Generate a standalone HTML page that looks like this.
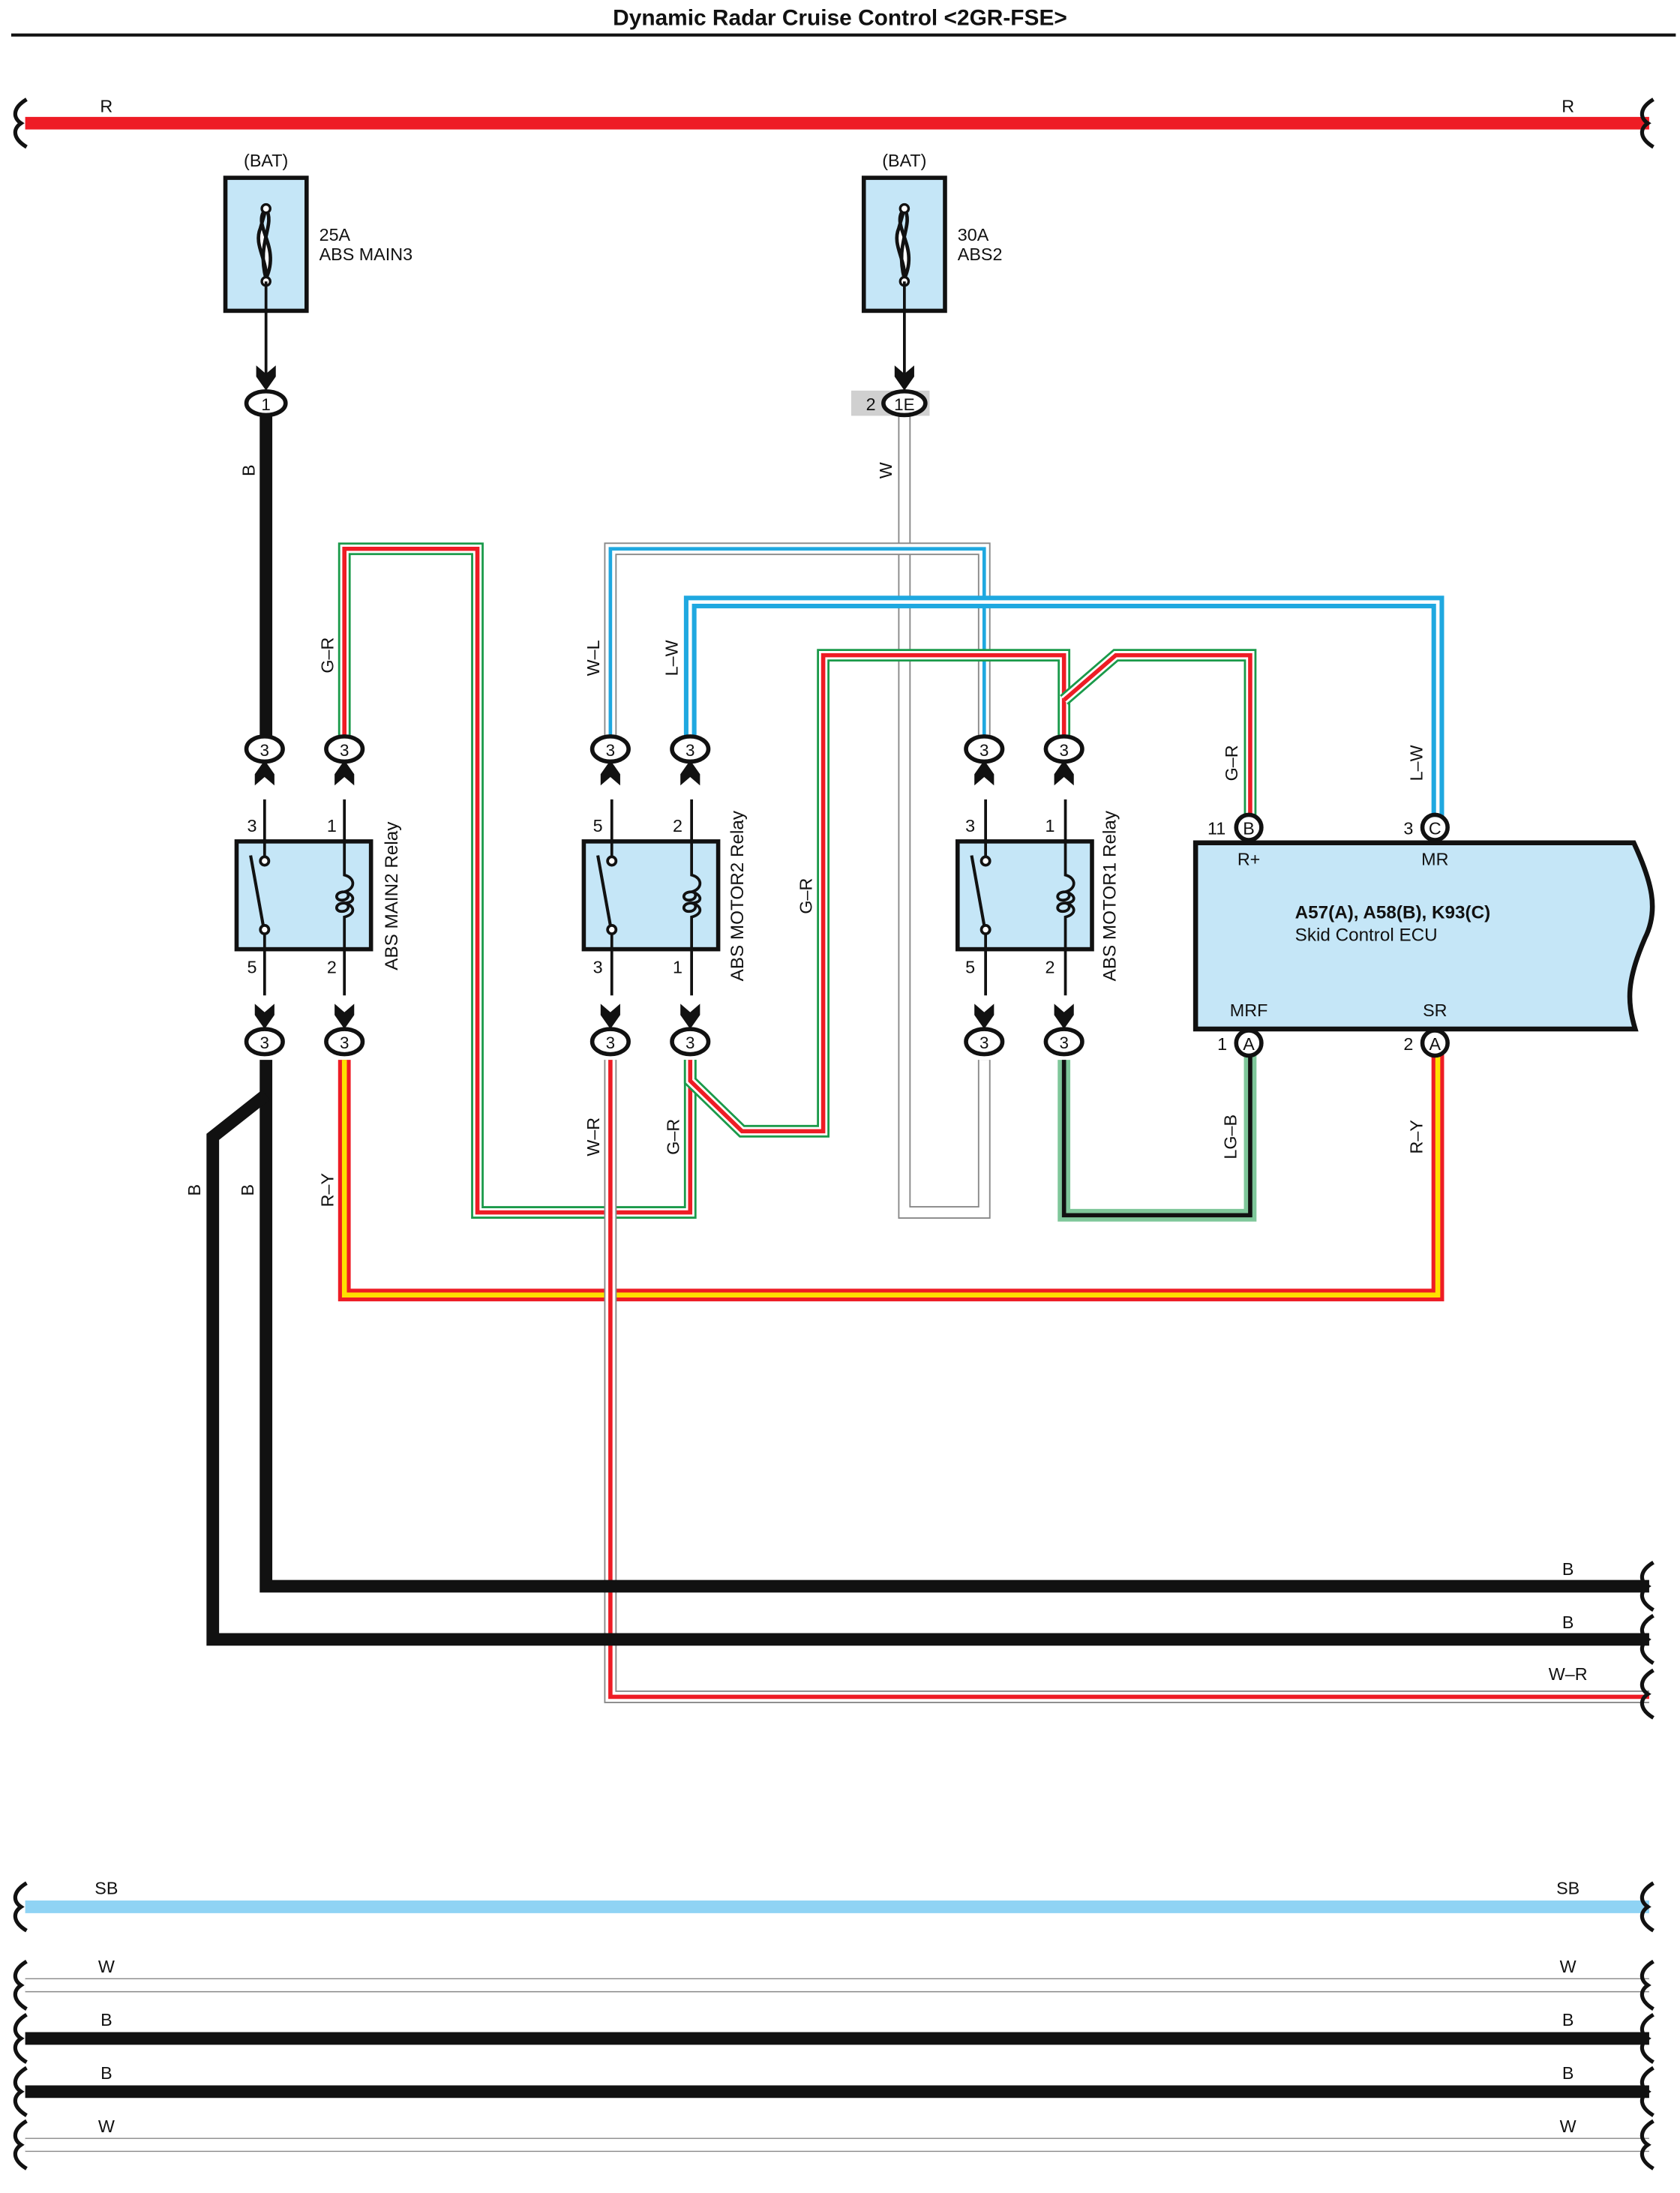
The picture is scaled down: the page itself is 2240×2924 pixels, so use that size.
<!DOCTYPE html>
<html><head><meta charset="utf-8"><style>
html,body{margin:0;padding:0;background:#fff}
svg{display:block}
text{font-family:"Liberation Sans",Arial,sans-serif;fill:#111}
</style></head><body>
<svg width="2240" height="2924" viewBox="0 0 1200 1566.4" preserveAspectRatio="none" xmlns="http://www.w3.org/2000/svg">
<defs>
<path id="brL" d="M1 -17 C-9 -11 -9 -4 -3 0 C-9 4 -9 11 1 17" fill="none" stroke="#111" stroke-width="2.8"/>
<path id="arU" d="M0 0 L7 10 L7 18 L0 12 L-7 18 L-7 10 Z" fill="#111"/>
<path id="arD" d="M0 0 L7 -10 L7 -18 L0 -12 L-7 -18 L-7 -10 Z" fill="#111"/>
<g id="fuse"><rect x="0" y="0" width="58" height="95" fill="#c5e6f7" stroke="#111" stroke-width="3"/>
<path d="M29 22 C18 34 40 48 29 72 C30 58 20 48 25 36 Z" fill="#fff" stroke="#111" stroke-width="2.5"/>
<path d="M29 22 C36 34 22 46 29 72" fill="none" stroke="#111" stroke-width="2.5"/>
<circle cx="29" cy="22" r="3" fill="#fff" stroke="#111" stroke-width="1.8"/><circle cx="29" cy="74" r="3" fill="#fff" stroke="#111" stroke-width="1.8"/></g>
<g id="relay"><rect x="0" y="0" width="96" height="77" fill="#c5e6f7" stroke="#111" stroke-width="3"/>
<circle cx="20" cy="14" r="3" fill="#fff" stroke="#111" stroke-width="2"/><circle cx="20" cy="63" r="3" fill="#fff" stroke="#111" stroke-width="2"/>
<line x1="10" y1="10" x2="19" y2="60" stroke="#111" stroke-width="2.2"/>
<path d="M77 0 V24 C85 26 85 34 77 36 M77 36 C70 36 70 42 75 42 C81 42 81 36 77 36 M77 44 C70 44 70 50 75 50 C81 50 81 44 77 44 M77 36 C85 38 85 44 77 44 M77 44 C85 46 85 52 77 54 V77" fill="none" stroke="#111" stroke-width="2"/>
<line x1="20" y1="-30" x2="20" y2="11" stroke="#111" stroke-width="2"/><line x1="20" y1="66" x2="20" y2="110" stroke="#111" stroke-width="2"/>
<line x1="77" y1="-30" x2="77" y2="0" stroke="#111" stroke-width="2"/><line x1="77" y1="77" x2="77" y2="110" stroke="#111" stroke-width="2"/>
</g>
</defs>

<text x="600" y="18" font-size="16" font-weight="bold" text-anchor="middle">Dynamic Radar Cruise Control &lt;2GR-FSE&gt;</text>
<line x1="8" y1="25" x2="1197" y2="25" stroke="#111" stroke-width="2.2"/>

<line x1="18" y1="88" x2="1178" y2="88" stroke="#ee1c25" stroke-width="9"/>
<use href="#brL" x="18" y="88"/><use href="#brL" x="1180" y="88"/>
<text x="76" y="80" font-size="12.5" text-anchor="middle">R</text>
<text x="1120" y="80" font-size="12.5" text-anchor="middle">R</text>

<text x="190" y="119" font-size="12.5" text-anchor="middle">(BAT)</text>
<use href="#fuse" x="161" y="127"/>
<text x="228" y="172" font-size="12.5">25A</text><text x="228" y="186" font-size="12.5">ABS MAIN3</text>
<text x="646" y="119" font-size="12.5" text-anchor="middle">(BAT)</text>
<use href="#fuse" x="617" y="127"/>
<text x="684" y="172" font-size="12.5">30A</text><text x="684" y="186" font-size="12.5">ABS2</text>
<line x1="190" y1="201" x2="190" y2="276" stroke="#111" stroke-width="2"/>
<line x1="646" y1="201" x2="646" y2="276" stroke="#111" stroke-width="2"/>
<use href="#arD" x="190" y="279"/><use href="#arD" x="646" y="279"/>

<g fill="none" stroke-linejoin="miter">
<path d="M646 297 V866 H703 V757" stroke="#888" stroke-width="9"/><path d="M646 297 V866 H703 V757" stroke="#fff" stroke-width="7"/>
<path d="M436 527 V392 H703 V527" stroke="#888" stroke-width="9"/><path d="M436 527 V392 H703 V527" stroke="#fff" stroke-width="7"/><path d="M436 527 V392 H703 V527" stroke="#1fa8e0" stroke-width="2.5"/>
<path d="M493 527 V430 H1027 V583" stroke="#1fa8e0" stroke-width="9"/><path d="M493 527 V430 H1027 V583" stroke="#fff" stroke-width="2.5"/>
<path d="M246 527 V392 H341 V866 H493 V757" stroke="#1a9a4a" stroke-width="9"/><path d="M246 527 V392 H341 V866 H493 V757" stroke="#fff" stroke-width="6"/><path d="M246 527 V392 H341 V866 H493 V757" stroke="#ee1c25" stroke-width="3"/>
<path d="M493 757 V772 L530 808 H588 V468 H760 V527" stroke="#1a9a4a" stroke-width="9"/><path d="M493 757 V772 L530 808 H588 V468 H760 V527" stroke="#fff" stroke-width="6"/><path d="M493 757 V772 L530 808 H588 V468 H760 V527" stroke="#ee1c25" stroke-width="3"/>
<path d="M760 500 L797 468 H893 V583" stroke="#1a9a4a" stroke-width="9"/><path d="M760 500 L797 468 H893 V583" stroke="#fff" stroke-width="6"/><path d="M760 500 L797 468 H893 V583" stroke="#ee1c25" stroke-width="3"/>
<path d="M760 757 V868 H893 V753" stroke="#7fc79a" stroke-width="9"/><path d="M760 757 V868 H893 V753" stroke="#111" stroke-width="3"/>
<path d="M246 757 V925 H1027 V753" stroke="#ee1c25" stroke-width="9"/><path d="M246 757 V925 H1027 V753" stroke="#ffe000" stroke-width="3.5"/>
<path d="M436 757 V1212 H1178" stroke="#888" stroke-width="9"/><path d="M436 757 V1212 H1178" stroke="#fff" stroke-width="7"/><path d="M436 757 V1212 H1178" stroke="#ee1c25" stroke-width="3"/>
<path d="M190 297 V527" stroke="#111" stroke-width="9"/>
<path d="M190 757 V1133 H1178" stroke="#111" stroke-width="9"/>
<path d="M190 782 L152 812 V1171 H1178" stroke="#111" stroke-width="9"/>
</g>
<use href="#brL" x="1180" y="1133"/><use href="#brL" x="1180" y="1171"/><use href="#brL" x="1180" y="1210"/>
<text x="1120" y="1125" font-size="12.5" text-anchor="middle">B</text>
<text x="1120" y="1163" font-size="12.5" text-anchor="middle">B</text>
<text x="1120" y="1200" font-size="12.5" text-anchor="middle">W–R</text>

<rect x="608" y="279" width="56" height="18" fill="#d0d0d0"/>
<text x="622" y="293" font-size="12.5" text-anchor="middle">2</text>
<ellipse cx="646" cy="288" rx="15" ry="8.5" fill="#fff" stroke="#111" stroke-width="3"/>
<text x="646" y="293" font-size="12" text-anchor="middle">1E</text>
<ellipse cx="190" cy="288" rx="14" ry="8.5" fill="#fff" stroke="#111" stroke-width="3"/>
<text x="190" y="293" font-size="12" text-anchor="middle">1</text>

<use href="#relay" x="169" y="601"/>
<use href="#relay" x="417" y="601"/>
<use href="#relay" x="684" y="601"/>
<g font-size="12.5" text-anchor="middle">
<text x="180" y="594">3</text><text x="237" y="594">1</text><text x="180" y="695">5</text><text x="237" y="695">2</text>
<text x="427" y="594">5</text><text x="484" y="594">2</text><text x="427" y="695">3</text><text x="484" y="695">1</text>
<text x="693" y="594">3</text><text x="750" y="594">1</text><text x="693" y="695">5</text><text x="750" y="695">2</text>
</g>
<text transform="translate(284,640) rotate(-90)" font-size="13" text-anchor="middle">ABS MAIN2 Relay</text>
<text transform="translate(531,640) rotate(-90)" font-size="13" text-anchor="middle">ABS MOTOR2 Relay</text>
<text transform="translate(797,640) rotate(-90)" font-size="13" text-anchor="middle">ABS MOTOR1 Relay</text>

<g>
<use href="#arU" x="189" y="543"/><use href="#arU" x="246" y="543"/><use href="#arU" x="436" y="543"/><use href="#arU" x="493" y="543"/><use href="#arU" x="703" y="543"/><use href="#arU" x="760" y="543"/>
<use href="#arD" x="189" y="735"/><use href="#arD" x="246" y="735"/><use href="#arD" x="436" y="735"/><use href="#arD" x="493" y="735"/><use href="#arD" x="703" y="735"/><use href="#arD" x="760" y="735"/>
<g fill="#fff" stroke="#111" stroke-width="3">
<ellipse cx="189" cy="535" rx="13" ry="9"/><ellipse cx="246" cy="535" rx="13" ry="9"/><ellipse cx="436" cy="535" rx="13" ry="9"/><ellipse cx="493" cy="535" rx="13" ry="9"/><ellipse cx="703" cy="535" rx="13" ry="9"/><ellipse cx="760" cy="535" rx="13" ry="9"/>
<ellipse cx="189" cy="744" rx="13" ry="9"/><ellipse cx="246" cy="744" rx="13" ry="9"/><ellipse cx="436" cy="744" rx="13" ry="9"/><ellipse cx="493" cy="744" rx="13" ry="9"/><ellipse cx="703" cy="744" rx="13" ry="9"/><ellipse cx="760" cy="744" rx="13" ry="9"/>
</g>
<g font-size="12" text-anchor="middle">
<text x="189" y="540">3</text><text x="246" y="540">3</text><text x="436" y="540">3</text><text x="493" y="540">3</text><text x="703" y="540">3</text><text x="760" y="540">3</text>
<text x="189" y="749">3</text><text x="246" y="749">3</text><text x="436" y="749">3</text><text x="493" y="749">3</text><text x="703" y="749">3</text><text x="760" y="749">3</text>
</g>
</g>

<path d="M854 602 H1167 C1180 630 1185 650 1175 670 C1162 700 1162 715 1168 735 H854 Z" fill="#c5e6f7" stroke="#111" stroke-width="3.5"/>
<g fill="#fff" stroke="#111" stroke-width="3">
<circle cx="892" cy="591" r="9"/><circle cx="1025" cy="591" r="9"/><circle cx="892" cy="745" r="9"/><circle cx="1025" cy="745" r="9"/>
</g>
<g font-size="12.5" text-anchor="middle">
<text x="892" y="596">B</text><text x="1025" y="596">C</text><text x="892" y="750">A</text><text x="1025" y="750">A</text>
<text x="869" y="596">11</text><text x="1006" y="596">3</text><text x="873" y="750">1</text><text x="1006" y="750">2</text>
<text x="892" y="618">R+</text><text x="1025" y="618">MR</text><text x="892" y="726">MRF</text><text x="1025" y="726">SR</text>
</g>
<text x="925" y="656" font-size="13" font-weight="bold">A57(A), A58(B), K93(C)</text>
<text x="925" y="672" font-size="13">Skid Control ECU</text>

<g font-size="12.5" text-anchor="middle">
<text transform="translate(182,336) rotate(-90)">B</text>
<text transform="translate(238,468) rotate(-90)">G–R</text>
<text transform="translate(428,470) rotate(-90)">W–L</text>
<text transform="translate(484,470) rotate(-90)">L–W</text>
<text transform="translate(637,336) rotate(-90)">W</text>
<text transform="translate(580,640) rotate(-90)">G–R</text>
<text transform="translate(884,545) rotate(-90)">G–R</text>
<text transform="translate(1016,545) rotate(-90)">L–W</text>
<text transform="translate(143,850) rotate(-90)">B</text>
<text transform="translate(181,850) rotate(-90)">B</text>
<text transform="translate(238,850) rotate(-90)">R–Y</text>
<text transform="translate(428,812) rotate(-90)">W–R</text>
<text transform="translate(485,812) rotate(-90)">G–R</text>
<text transform="translate(883,812) rotate(-90)">LG–B</text>
<text transform="translate(1016,812) rotate(-90)">R–Y</text>
</g>

<line x1="18" y1="1362" x2="1178" y2="1362" stroke="#8fd3f4" stroke-width="9"/>
<line x1="18" y1="1418" x2="1178" y2="1418" stroke="#888" stroke-width="10"/>
<line x1="18" y1="1418" x2="1178" y2="1418" stroke="#fff" stroke-width="8.5"/>
<line x1="18" y1="1456" x2="1178" y2="1456" stroke="#111" stroke-width="9"/>
<line x1="18" y1="1494" x2="1178" y2="1494" stroke="#111" stroke-width="9"/>
<line x1="18" y1="1532" x2="1178" y2="1532" stroke="#888" stroke-width="10"/>
<line x1="18" y1="1532" x2="1178" y2="1532" stroke="#fff" stroke-width="8.5"/>
<use href="#brL" x="18" y="1362"/><use href="#brL" x="1180" y="1362"/>
<use href="#brL" x="18" y="1418"/><use href="#brL" x="1180" y="1418"/>
<use href="#brL" x="18" y="1456"/><use href="#brL" x="1180" y="1456"/>
<use href="#brL" x="18" y="1494"/><use href="#brL" x="1180" y="1494"/>
<use href="#brL" x="18" y="1532"/><use href="#brL" x="1180" y="1532"/>
<g font-size="12.5" text-anchor="middle">
<text x="76" y="1353">SB</text><text x="1120" y="1353">SB</text>
<text x="76" y="1409">W</text><text x="1120" y="1409">W</text>
<text x="76" y="1447">B</text><text x="1120" y="1447">B</text>
<text x="76" y="1485">B</text><text x="1120" y="1485">B</text>
<text x="76" y="1523">W</text><text x="1120" y="1523">W</text>
</g>
</svg>
</body></html>
